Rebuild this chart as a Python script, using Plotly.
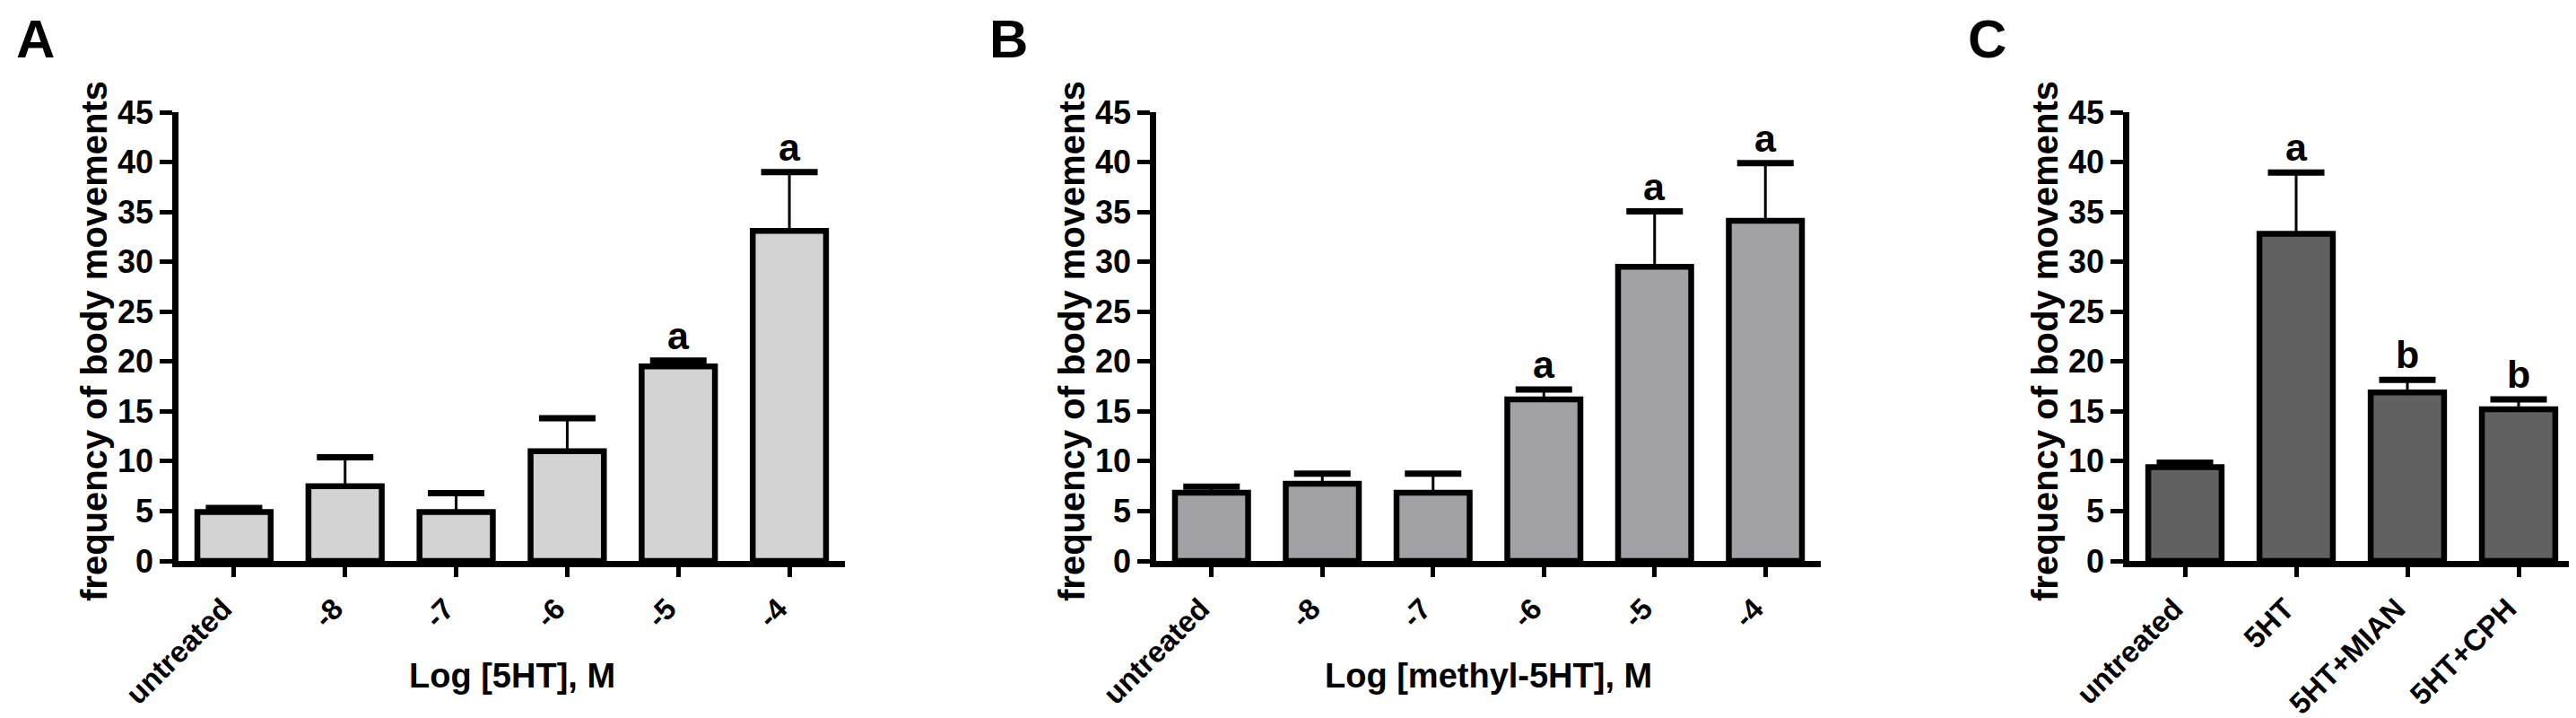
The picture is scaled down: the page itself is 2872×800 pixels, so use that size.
import plotly.graph_objects as go

# panel A: 5HT dose response
a_cats = ["untreated", "-8", "-7", "-6", "-5", "-4"]
a_mean = [4.9, 7.5, 4.9, 11.0, 19.5, 33.1]
a_err = [0.4, 2.9, 1.9, 3.3, 0.6, 5.9]
a_sig = ["", "", "", "", "a", "a"]

# panel B: methyl-5HT dose response
b_cats = ["untreated", "-8", "-7", "-6", "-5", "-4"]
b_mean = [6.85, 7.75, 6.85, 16.2, 29.5, 34.1]
b_err = [0.6, 1.0, 1.9, 1.0, 5.55, 5.8]
b_sig = ["", "", "", "a", "a", "a"]

# panel C: antagonists
c_cats = ["untreated", "5HT", "5HT+MIAN", "5HT+CPH"]
c_mean = [9.4, 32.8, 16.9, 15.2]
c_err = [0.45, 6.15, 1.25, 1.0]
c_sig = ["", "a", "b", "b"]

y_ticks = [0, 5, 10, 15, 20, 25, 30, 35, 40, 45]

FONT = "Liberation Sans, Arial, sans-serif"
W, H = 2872, 800
Y_DOM = [1 - 617 / H, 1 - 117 / H]

panels = [
    dict(cats=a_cats, mean=a_mean, err=a_err, sig=a_sig, color="#d3d3d3",
         px=(191, 934), letter="A", letter_x=31, title="Log [5HT], M"),
    dict(cats=b_cats, mean=b_mean, err=b_err, sig=b_sig, color="#a2a2a6",
         px=(1281, 2022), letter="B", letter_x=1116, title="Log [methyl-5HT], M"),
    dict(cats=c_cats, mean=c_mean, err=c_err, sig=c_sig, color="#616161",
         px=(2366, 2862), letter="C", letter_x=2207, title=None),
]

fig = go.Figure()
annotations = []

for i, p in enumerate(panels, start=1):
    xa = "x" if i == 1 else "x%d" % i
    ya = "y" if i == 1 else "y%d" % i
    tops = [m + e for m, e in zip(p["mean"], p["err"])]

    fig.add_trace(go.Bar(
        x=p["cats"], y=p["mean"], xaxis=xa, yaxis=ya, width=0.66,
        marker=dict(color=p["color"], line=dict(color="black", width=6.5)),
        error_y=dict(type="data", array=p["err"], arrayminus=[0] * len(p["err"]),
                     symmetric=False, color="black", thickness=3, width=0),
        showlegend=False, hoverinfo="x+y",
    ))
    # thick error bar caps
    fig.add_trace(go.Scatter(
        x=p["cats"], y=tops, xaxis=xa, yaxis=ya, mode="markers",
        marker=dict(symbol="line-ew", size=45, color="black",
                    line=dict(color="black", width=7)),
        showlegend=False, hoverinfo="skip", cliponaxis=False,
    ))

    n = len(p["cats"])
    x0, x1 = p["px"]
    fig.update_layout(**{
        ("xaxis" if i == 1 else "xaxis%d" % i): dict(
            domain=[x0 / W, x1 / W], anchor=ya, type="category", automargin=False,
            range=[-0.5, n - 0.5], showline=True, linewidth=6.5, linecolor="black",
            ticks="outside", ticklen=11, tickwidth=5, tickcolor="black",
            tickangle=-45, ticklabelstandoff=3, ticklabelshift=-12,
            showgrid=False, zeroline=False,
            tickfont=dict(family=FONT, size=33, color="black", weight="bold"),
        ),
        ("yaxis" if i == 1 else "yaxis%d" % i): dict(
            domain=Y_DOM, anchor=xa, range=[0, 45], tickvals=y_ticks,
            automargin=False,
            showline=True, linewidth=6.5, linecolor="black",
            ticks="outside", ticklen=14, tickwidth=5, tickcolor="black",
            showgrid=False, zeroline=False,
            tickfont=dict(family=FONT, size=36, color="black", weight="bold"),
        ),
    })

    # significance letters (positioned by category index)
    for k, (top, s) in enumerate(zip(tops, p["sig"])):
        if s:
            annotations.append(dict(
                x=k, y=top, xref=xa, yref=ya, text=s, showarrow=False,
                yanchor="bottom", yshift=2,
                font=dict(family=FONT, size=43, color="black", weight="bold"),
            ))

    # y axis title
    annotations.append(dict(
        x=(x0 - 94) / W, y=1 - 372 / H, xref="paper", yref="paper",
        text="frequency of body movements", textangle=-90, showarrow=False,
        xanchor="center", yanchor="middle",
        font=dict(family=FONT, size=40, color="black", weight="bold"),
    ))
    # x axis title
    if p["title"]:
        annotations.append(dict(
            x=(x0 + x1) / 2 / W, y=1 - 745 / H, xref="paper", yref="paper",
            text=p["title"], showarrow=False, xanchor="center", yanchor="middle",
            font=dict(family=FONT, size=38, color="black", weight="bold"),
        ))
    # panel letter
    annotations.append(dict(
        x=p["letter_x"] / W, y=1, xref="paper", yref="paper",
        text=p["letter"], showarrow=False, xanchor="center", yanchor="top",
        font=dict(family=FONT, size=60, color="black", weight="bold"),
    ))

fig.update_layout(
    width=W, height=H,
    margin=dict(l=0, r=0, t=0, b=0),
    paper_bgcolor="white", plot_bgcolor="white",
    font=dict(family=FONT, color="black"),
    annotations=annotations,
)

fig.write_html("out.html")
